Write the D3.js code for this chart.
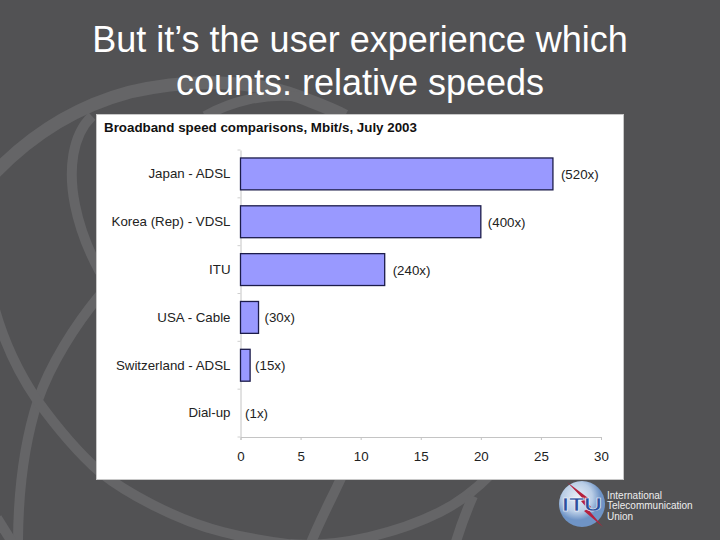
<!DOCTYPE html>
<html>
<head>
<meta charset="utf-8">
<script src="https://cdn.jsdelivr.net/npm/d3@7"></script>
<style>
html, body { margin: 0; padding: 0; background: #525254; }
svg { display: block; }
text { font-family: "Liberation Sans", Arial, sans-serif; }
</style>
</head>
<body>
<svg id="slide" width="720" height="540"></svg>
<script>
const titleLines = ["But it’s the user experience which", "counts: relative speeds"];
const chartTitle = "Broadband speed comparisons, Mbit/s, July 2003";
const categories = ["Japan - ADSL", "Korea (Rep) - VDSL", "ITU", "USA - Cable", "Switzerland - ADSL", "Dial-up"];
const speeds = [26, 20, 12, 1.5, 0.8, 0.05];
const multiples = ["(520x)", "(400x)", "(240x)", "(30x)", "(15x)", "(1x)"];
const xTicks = [0, 5, 10, 15, 20, 25, 30];
const logoLines = ["International", "Telecommunication", "Union"];

const svg = d3.select("#slide");

// background swooshes
const swooshes = [
  "M-10,178 C25,140 70,108 130,92 C190,78 255,80 300,97 C315,103 330,108 345,116",
  "M205,116 C230,102 265,92 300,97",
  "M92,116 C72,135 68,170 75,205 C80,230 88,250 100,272",
  "M100,295 C75,325 50,365 38,400 C25,440 18,490 18,545",
  "M-5,310 C5,345 20,375 37,400 C55,425 75,450 100,472 C125,492 175,520 223,532 C250,539 270,542 295,545",
  "M290,544 C340,548 400,532 440,512 C460,502 475,490 489,476",
  "M342,476 C332,498 320,520 310,545",
  "M473,496 C466,512 460,528 455,545",
  "M-3,518 L12,542"
];
svg.selectAll("path.swoosh").data(swooshes).join("path")
  .attr("class", "swoosh")
  .attr("d", d => d)
  .attr("fill", "none")
  .attr("stroke", "#656567")
  .attr("stroke-width", (d, i) => i == 0 ? 13 : 10);

svg.selectAll("text.title").data(titleLines).join("text")
  .attr("class", "title")
  .attr("x", 360)
  .attr("y", (d, i) => 52 + i * 42.5)
  .attr("text-anchor", "middle")
  .attr("fill", "#fff")
  .attr("font-size", 36)
  .text(d => d);

// white chart panel
svg.append("rect")
  .attr("x", 96.5).attr("y", 114.5)
  .attr("width", 527).attr("height", 365)
  .attr("fill", "#fff")
  .attr("stroke", "#c8c8c8");

svg.append("text")
  .attr("x", 104).attr("y", 132)
  .attr("font-size", 13.35)
  .attr("font-weight", "bold")
  .attr("fill", "#111")
  .text(chartTitle);

const x = d3.scaleLinear().domain([0, 30]).range([240.5, 601]);
const y = d3.scaleBand().domain(categories).range([150, 437]).paddingInner(1 / 3).paddingOuter(1 / 6);

const xAxis = svg.append("g")
  .attr("transform", "translate(0,437)")
  .call(d3.axisBottom(x).tickValues(xTicks).tickSize(3).tickPadding(12));
const yAxis = svg.append("g")
  .attr("transform", "translate(240.5,0)")
  .call(d3.axisLeft(y).tickSize(0).tickPadding(10));

// category separators on the y axis, as in the source chart
const yEdges = d3.range(categories.length + 1).map(i => 150 + i * y.step());
yAxis.selectAll("line.sep").data(yEdges).join("line")
  .attr("class", "sep")
  .attr("x1", -3).attr("x2", 0)
  .attr("y1", d => d).attr("y2", d => d)
  .attr("stroke", "#d0d0d0");

[xAxis, yAxis].forEach(a => {
  a.selectAll(".domain").attr("stroke", "#c4c4c4");
  a.selectAll(".tick line").attr("stroke", "#c4c4c4");
  a.selectAll("text").attr("font-size", 13.3).attr("fill", "#222")
    .style("font-family", '"Liberation Sans", Arial, sans-serif');
});

svg.selectAll("rect.bar").data(categories).join("rect")
  .attr("class", "bar")
  .attr("x", x(0))
  .attr("y", d => y(d))
  .attr("width", (d, i) => x(speeds[i]) - x(0))
  .attr("height", y.bandwidth())
  .attr("fill", "#9999ff")
  .attr("stroke", "#1c1c4a")
  .attr("stroke-width", 1.3)
  .attr("display", (d, i) => speeds[i] < 0.1 ? "none" : null);

// the labels were placed by hand in the source, so the gap varies a little
const labelGap = [8, 7, 8, 6, 5, 4];
svg.selectAll("text.multiple").data(categories).join("text")
  .attr("class", "multiple")
  .attr("x", (d, i) => x(speeds[i]) + labelGap[i])
  .attr("y", d => y(d) + y.bandwidth() / 2 + 5)
  .attr("font-size", 13.3)
  .attr("fill", "#222")
  .text((d, i) => multiples[i]);

// ITU logo
const logo = svg.append("g").attr("transform", "translate(582,504)");
const grad = svg.append("defs").append("radialGradient").attr("id", "globe").attr("cx", "40%").attr("cy", "35%");
grad.append("stop").attr("offset", "0%").attr("stop-color", "#e8eef6");
grad.append("stop").attr("offset", "65%").attr("stop-color", "#b9cde6");
grad.append("stop").attr("offset", "100%").attr("stop-color", "#6f94c6");
logo.append("circle").attr("r", 23).attr("fill", "url(#globe)");
logo.append("path")
  .attr("d", "M-15,-22 L6,-6 L-1,-3 L21,23 L2,7 L9,3 Z")
  .attr("fill", "#b5203c");
logo.append("text")
  .attr("x", 0).attr("y", 7)
  .attr("text-anchor", "middle")
  .attr("font-size", 19)
  .attr("font-weight", "bold")
  .attr("textLength", 40)
  .attr("lengthAdjust", "spacingAndGlyphs")
  .attr("fill", "#2a4f9e")
  .attr("stroke", "#fff")
  .attr("stroke-width", 0.5)
  .text("ITU");

svg.selectAll("text.logoline").data(logoLines).join("text")
  .attr("class", "logoline")
  .attr("x", 607)
  .attr("y", (d, i) => 498.5 + i * 10.5)
  .attr("font-size", 10)
  .attr("fill", "#eee")
  .text(d => d);
</script>
</body>
</html>
